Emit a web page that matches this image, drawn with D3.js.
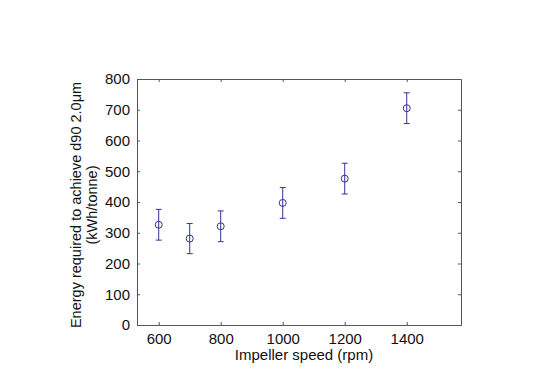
<!DOCTYPE html>
<html>
<head>
<meta charset="utf-8">
<script src="https://cdn.jsdelivr.net/npm/d3@7"></script>
<style>
  body { margin: 0; background: #fff; }
  text { font-family: "Liberation Sans", Arial, sans-serif; fill: #111; }
</style>
</head>
<body>
<div class="chart"></div>
<script>
const speeds = [600, 700, 800, 1000, 1200, 1400]
const energy = [326, 281, 321, 397, 476, 705]
const errors = [50, 49, 50, 50, 50, 50]
const xTicks = [600, 800, 1000, 1200, 1400]
const yTicks = [0, 100, 200, 300, 400, 500, 600, 700, 800]

const width = 554
const height = 375
const margin = { top: 79, right: 93, bottom: 50, left: 137 }

const svg = d3.select('.chart')
  .append('svg')
  .attr('width', width)
  .attr('height', height)

const x = d3.scaleLinear()
  .domain([530, 1575])
  .range([margin.left, width - margin.right])

const y = d3.scaleLinear()
  .domain([0, 800])
  .range([height - margin.bottom, margin.top])

const axisColor = '#555'
const markColor = '#33339a'
const fmt = d3.format('d')

// box with inward ticks on all sides (matlab style)
const g = svg.append('g')

g.append('g')
  .attr('transform', `translate(0,${y(0)})`)
  .call(d3.axisBottom(x).tickValues(xTicks).tickFormat(fmt).tickSizeInner(-3).tickSizeOuter(0).tickPadding(8))
g.append('g')
  .attr('transform', `translate(0,${y(800)})`)
  .call(d3.axisTop(x).tickValues(xTicks).tickSizeInner(-3).tickSizeOuter(0).tickFormat(''))
g.append('g')
  .attr('transform', `translate(${x.range()[0]},0)`)
  .call(d3.axisLeft(y).tickValues(yTicks).tickFormat(fmt).tickSizeInner(-3).tickSizeOuter(0).tickPadding(7))
g.append('g')
  .attr('transform', `translate(${x.range()[1]},0)`)
  .call(d3.axisRight(y).tickValues(yTicks).tickSizeInner(-3).tickSizeOuter(0).tickFormat(''))

g.selectAll('.domain, .tick line').attr('stroke', axisColor).attr('stroke-width', 1)
g.selectAll('.tick text')
  .attr('font-size', 15)
  .attr('font-family', '"Liberation Sans", Arial, sans-serif')
  .attr('fill', '#111')

// error bars
const pts = speeds.map((s, i) => ({ s: s, e: energy[i], err: errors[i] }))
const eb = svg.append('g')
  .attr('stroke', markColor)
  .attr('stroke-width', 1)
  .attr('fill', 'none')

eb.selectAll('.stem').data(pts).enter().append('line')
  .attr('x1', d => x(d.s)).attr('x2', d => x(d.s))
  .attr('y1', d => y(d.e + d.err)).attr('y2', d => y(d.e - d.err))
eb.selectAll('.capt').data(pts).enter().append('line')
  .attr('x1', d => x(d.s) - 3).attr('x2', d => x(d.s) + 3)
  .attr('y1', d => y(d.e + d.err)).attr('y2', d => y(d.e + d.err))
eb.selectAll('.capb').data(pts).enter().append('line')
  .attr('x1', d => x(d.s) - 3).attr('x2', d => x(d.s) + 3)
  .attr('y1', d => y(d.e - d.err)).attr('y2', d => y(d.e - d.err))
eb.selectAll('circle').data(pts).enter().append('circle')
  .attr('cx', d => x(d.s)).attr('cy', d => y(d.e))
  .attr('r', 3.5)

// labels
svg.append('text')
  .attr('x', (x.range()[0] + x.range()[1]) / 2 + 5)
  .attr('y', 360)
  .attr('text-anchor', 'middle')
  .attr('font-size', 15)
  .text('Impeller speed (rpm)')

const midY = (y.range()[0] + y.range()[1]) / 2
svg.append('text')
  .attr('transform', `translate(81,${midY + 3}) rotate(-90)`)
  .attr('text-anchor', 'middle')
  .attr('font-size', 14.5)
  .text('Energy required to achieve d90 2.0\u03bcm')
svg.append('text')
  .attr('transform', `translate(97,${midY + 3}) rotate(-90)`)
  .attr('text-anchor', 'middle')
  .attr('font-size', 14.5)
  .text('(kWh/tonne)')
</script>
</body>
</html>
